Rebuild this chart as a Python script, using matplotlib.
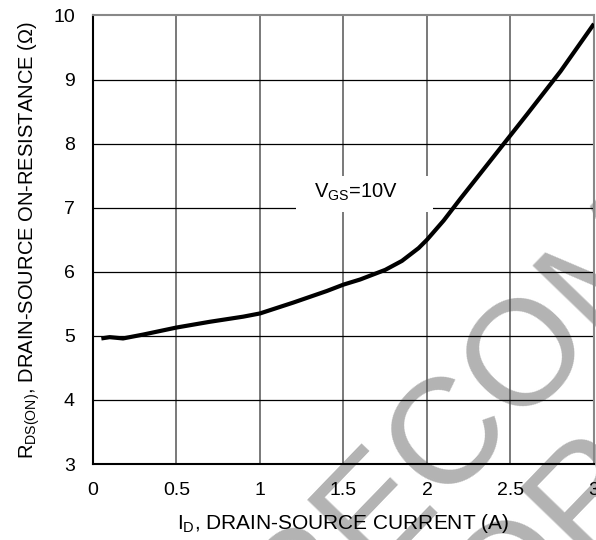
"""
On-resistance vs drain current (V_GS = 10 V), datasheet style.
"""

import matplotlib.pyplot as plt
from matplotlib.patches import Rectangle

plt.rcParams['font.family'] = ['Liberation Sans', 'DejaVu Sans']
plt.rcParams['mathtext.default'] = 'regular'

OUTPUT_PLOT = "out.png"

# Curve
drain_current = [0.05, 0.10, 0.18, 0.30, 0.50, 0.70, 0.90, 1.00, 1.20, 1.40,
                 1.50, 1.60, 1.75, 1.85, 1.95, 2.00, 2.10, 2.20, 2.40, 2.60,
                 2.80, 3.00]
r_ds_on = [4.96, 4.98, 4.96, 5.02, 5.13, 5.22, 5.30, 5.35, 5.52, 5.70,
           5.80, 5.88, 6.03, 6.17, 6.37, 6.50, 6.80, 7.14, 7.80, 8.46,
           9.13, 9.87]

x_ticks = [0, 0.5, 1, 1.5, 2, 2.5, 3]
x_tick_labels = ['0', '0.5', '1', '1.5', '2', '2.5', '3']
y_ticks = [3, 4, 5, 6, 7, 8, 9, 10]

fig = plt.figure(figsize=(5.96, 5.40), dpi=100)
ax = fig.add_axes([0.156, 0.1407, 0.8406, 0.8306])
ax.set_facecolor('none')

# watermark sits behind everything
wm = dict(rotation=46, rotation_mode='anchor', fontsize=108, color='#b3b3b3',
          ha='left', va='baseline', zorder=-5)
fig.text(0.495, -0.20, 'RECOMMENDED', **wm)
fig.text(0.74, -0.33, 'FOR NEW DESIGN', **wm)

# grid
for xv in x_ticks[1:-1]:
    ax.axvline(xv, color='#555555', lw=1.1, zorder=1)
for yv in y_ticks[1:-1]:
    ax.axhline(yv, color='black', lw=0.9, zorder=1)

ax.plot(drain_current, r_ds_on, color='black', lw=3, zorder=3,
        solid_capstyle='butt')

# white label box breaks the grid behind the annotation
ax.add_patch(Rectangle((1.216, 6.93), 0.82, 0.565, fc='white', ec='none',
                       zorder=2))
ax.text(1.575, 7.24, r'V$_{GS}$=10V', fontsize=14.5, ha='center',
        va='center', zorder=2.5)

ax.set_xlim(0, 3)
ax.set_ylim(3, 10)
ax.set_xticks(x_ticks)
ax.set_xticklabels(x_tick_labels)
ax.set_yticks(y_ticks)
ax.tick_params(length=0, labelsize=14)
ax.tick_params(axis='x', pad=13)
ax.tick_params(axis='y', pad=13)

for side in ['left', 'bottom']:
    ax.spines[side].set_color('black')
    ax.spines[side].set_linewidth(1.5)
for side in ['top', 'right']:
    ax.spines[side].set_color('#888888')
    ax.spines[side].set_linewidth(1.5)

ax.set_xlabel(r'I$_D$, DRAIN-SOURCE CURRENT (A)', fontsize=15, labelpad=9)
ax.set_ylabel(r'R$_{DS(ON)}$, DRAIN-SOURCE ON-RESISTANCE ($\Omega$)',
              fontsize=14.5, labelpad=8)

fig.savefig(OUTPUT_PLOT, dpi=100)
plt.close()
